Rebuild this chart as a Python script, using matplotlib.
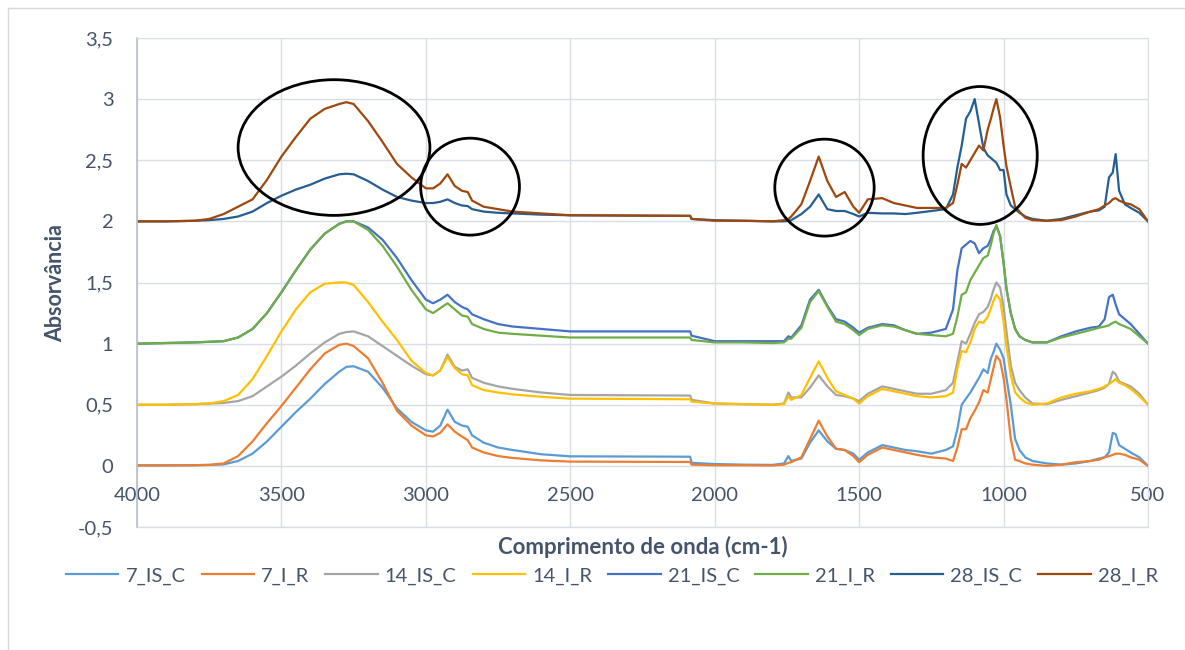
import matplotlib
matplotlib.use('Agg')
import matplotlib.pyplot as plt
from matplotlib.patches import Ellipse
from matplotlib.lines import Line2D
from matplotlib.ticker import FuncFormatter, MultipleLocator

plt.rcParams['font.family'] = ['Lato', 'DejaVu Sans']
text_color = '#44546A'
grid_color = '#D9DEE6'

# Wavenumber grid (cm-1) shared by all spectra
wavenumber = [
    4000, 3900, 3800, 3750, 3700, 3650, 3600, 3550, 3500, 3450, 3400, 3350, 3300, 3275, 3250, 3200, 3150, 3100, 3050, 3000,
    2975, 2950, 2925, 2900, 2875, 2855, 2840, 2800, 2750, 2700, 2600, 2500, 2085, 2080, 2000,
    1900, 1800, 1760, 1745, 1735, 1700, 1670, 1640, 1610, 1580, 1550, 1520, 1500, 1470, 1420, 1380, 1340, 1300, 1250, 1200,
    1175, 1160, 1145, 1130, 1115, 1100, 1085, 1070, 1055, 1045, 1035, 1025, 1012, 1000, 990, 975, 960, 945, 925, 900,
    850, 800, 750, 700, 670, 650, 635, 622, 612, 600, 580, 560, 530, 500,
]

abs_7_is_c = [
    0.005, 0.005, 0.006, 0.008, 0.012, 0.04, 0.10, 0.20, 0.32, 0.44, 0.55, 0.67, 0.77, 0.81, 0.815, 0.77, 0.64, 0.47, 0.36, 0.29,
    0.28, 0.33, 0.46, 0.36, 0.33, 0.32, 0.25, 0.19, 0.15, 0.13, 0.095, 0.078, 0.075, 0.025, 0.015,
    0.01, 0.008, 0.02, 0.08, 0.04, 0.06, 0.19, 0.29, 0.20, 0.14, 0.13, 0.10, 0.05, 0.11, 0.17, 0.15, 0.13, 0.12, 0.10, 0.13,
    0.16, 0.30, 0.50, 0.55, 0.60, 0.66, 0.72, 0.79, 0.76, 0.87, 0.93, 1.0, 0.95, 0.88, 0.72, 0.50, 0.22, 0.13, 0.07, 0.04,
    0.02, 0.01, 0.02, 0.04, 0.06, 0.07, 0.11, 0.27, 0.26, 0.17, 0.14, 0.11, 0.07, 0.0,
]
abs_7_i_r = [
    0.003, 0.003, 0.005, 0.008, 0.02, 0.08, 0.20, 0.35, 0.49, 0.64, 0.79, 0.92, 0.99, 1.0, 0.98, 0.88, 0.68, 0.45, 0.33, 0.25,
    0.24, 0.27, 0.34, 0.28, 0.24, 0.21, 0.15, 0.11, 0.08, 0.065, 0.045, 0.035, 0.032, 0.01, 0.005,
    0.005, 0.003, 0.01, 0.025, 0.03, 0.07, 0.22, 0.37, 0.24, 0.14, 0.13, 0.08, 0.03, 0.09, 0.15, 0.13, 0.11, 0.09, 0.07, 0.06,
    0.04, 0.15, 0.30, 0.30, 0.39, 0.45, 0.52, 0.62, 0.60, 0.70, 0.80, 0.90, 0.86, 0.72, 0.54, 0.22, 0.05, 0.04, 0.02, 0.01,
    0.0, 0.01, 0.03, 0.04, 0.05, 0.07, 0.08, 0.09, 0.10, 0.10, 0.09, 0.07, 0.05, 0.0,
]
abs_14_is_c = [
    0.5, 0.5, 0.505, 0.51, 0.515, 0.53, 0.57, 0.65, 0.73, 0.82, 0.92, 1.01, 1.08, 1.095, 1.10, 1.06, 0.98, 0.90, 0.82, 0.75,
    0.74, 0.78, 0.91, 0.81, 0.78, 0.79, 0.72, 0.68, 0.65, 0.63, 0.60, 0.58, 0.575, 0.54, 0.51,
    0.505, 0.50, 0.51, 0.60, 0.56, 0.56, 0.64, 0.74, 0.65, 0.58, 0.57, 0.55, 0.53, 0.59, 0.65, 0.63, 0.61, 0.59, 0.59, 0.62,
    0.68, 0.85, 1.02, 1.0, 1.08, 1.17, 1.24, 1.26, 1.30, 1.36, 1.44, 1.50, 1.46, 1.30, 1.10, 0.82, 0.68, 0.62, 0.56, 0.51,
    0.505, 0.54, 0.57, 0.60, 0.62, 0.64, 0.67, 0.77, 0.75, 0.69, 0.67, 0.65, 0.59, 0.5,
]
abs_14_i_r = [
    0.5, 0.5, 0.505, 0.51, 0.53, 0.58, 0.71, 0.90, 1.10, 1.28, 1.42, 1.49, 1.50, 1.50, 1.48, 1.34, 1.18, 1.03, 0.86, 0.76,
    0.74, 0.78, 0.89, 0.80, 0.75, 0.74, 0.66, 0.62, 0.60, 0.585, 0.565, 0.55, 0.545, 0.525, 0.51,
    0.505, 0.50, 0.505, 0.57, 0.54, 0.58, 0.72, 0.855, 0.72, 0.61, 0.58, 0.55, 0.51, 0.57, 0.63, 0.61, 0.59, 0.57, 0.56, 0.57,
    0.60, 0.80, 0.94, 0.93, 1.01, 1.12, 1.18, 1.17, 1.22, 1.28, 1.35, 1.40, 1.36, 1.18, 0.98, 0.74, 0.60, 0.56, 0.52, 0.50,
    0.51, 0.56, 0.59, 0.61, 0.63, 0.65, 0.67, 0.69, 0.71, 0.68, 0.66, 0.63, 0.57, 0.50,
]
abs_21_is_c = [
    1.0, 1.005, 1.01, 1.015, 1.02, 1.05, 1.12, 1.25, 1.42, 1.60, 1.77, 1.90, 1.98, 2.0, 2.0, 1.95, 1.85, 1.70, 1.52, 1.36,
    1.33, 1.36, 1.40, 1.34, 1.30, 1.28, 1.24, 1.20, 1.16, 1.14, 1.12, 1.10, 1.10, 1.065, 1.02,
    1.02, 1.02, 1.02, 1.06, 1.05, 1.15, 1.36, 1.44, 1.31, 1.20, 1.18, 1.13, 1.09, 1.13, 1.16, 1.15, 1.11, 1.08, 1.09, 1.12,
    1.28, 1.60, 1.78, 1.81, 1.84, 1.82, 1.74, 1.78, 1.80, 1.85, 1.92, 1.96, 1.88, 1.66, 1.45, 1.25, 1.12, 1.06, 1.03, 1.01,
    1.01, 1.06, 1.10, 1.13, 1.14, 1.20, 1.38, 1.40, 1.32, 1.24, 1.20, 1.16, 1.08, 1.0,
]
abs_21_i_r = [
    1.0, 1.005, 1.01, 1.015, 1.02, 1.05, 1.12, 1.25, 1.42, 1.60, 1.77, 1.90, 1.98, 2.0, 2.0, 1.93, 1.80, 1.63, 1.44, 1.28,
    1.25, 1.29, 1.33, 1.28, 1.23, 1.22, 1.16, 1.12, 1.09, 1.08, 1.065, 1.05, 1.05, 1.03, 1.01,
    1.01, 1.005, 1.01, 1.04, 1.04, 1.13, 1.34, 1.43, 1.30, 1.18, 1.16, 1.11, 1.07, 1.12, 1.15, 1.14, 1.11, 1.08, 1.07, 1.06,
    1.08, 1.22, 1.40, 1.42, 1.52, 1.58, 1.64, 1.70, 1.72, 1.80, 1.90, 1.97, 1.88, 1.66, 1.45, 1.25, 1.12, 1.06, 1.03, 1.01,
    1.01, 1.05, 1.08, 1.11, 1.13, 1.14, 1.15, 1.17, 1.18, 1.16, 1.14, 1.12, 1.06, 1.0,
]
abs_28_is_c = [
    2.0, 2.0, 2.005, 2.01, 2.02, 2.04, 2.08, 2.15, 2.21, 2.26, 2.30, 2.35, 2.385, 2.39, 2.385, 2.33, 2.26, 2.20, 2.17, 2.15,
    2.15, 2.16, 2.18, 2.15, 2.13, 2.125, 2.10, 2.08, 2.07, 2.065, 2.055, 2.05, 2.045, 2.02, 2.01,
    2.005, 2.0, 2.0, 2.005, 2.01, 2.06, 2.12, 2.22, 2.10, 2.085, 2.085, 2.06, 2.04, 2.07, 2.065, 2.065, 2.06, 2.07, 2.085, 2.10,
    2.22, 2.44, 2.62, 2.84, 2.90, 3.0, 2.80, 2.60, 2.54, 2.52, 2.50, 2.48, 2.42, 2.42, 2.22, 2.13, 2.10, 2.07, 2.04, 2.02,
    2.005, 2.02, 2.05, 2.08, 2.09, 2.12, 2.36, 2.40, 2.55, 2.25, 2.14, 2.11, 2.07, 2.0,
]
abs_28_i_r = [
    2.0, 2.0, 2.005, 2.02, 2.06, 2.12, 2.18, 2.34, 2.53, 2.69, 2.84, 2.92, 2.96, 2.975, 2.96, 2.82, 2.65, 2.47, 2.36, 2.27,
    2.27, 2.31, 2.385, 2.29, 2.25, 2.24, 2.17, 2.12, 2.10, 2.08, 2.065, 2.05, 2.045, 2.02, 2.005,
    2.005, 2.0, 2.01, 2.02, 2.04, 2.14, 2.33, 2.53, 2.33, 2.20, 2.24, 2.12, 2.07, 2.18, 2.19, 2.15, 2.13, 2.11, 2.11, 2.11,
    2.15, 2.30, 2.47, 2.44, 2.50, 2.56, 2.62, 2.58, 2.75, 2.83, 2.92, 3.0, 2.85, 2.62, 2.45, 2.28, 2.12, 2.08, 2.03, 2.01,
    2.005, 2.01, 2.04, 2.08, 2.10, 2.13, 2.15, 2.18, 2.19, 2.17, 2.15, 2.14, 2.10, 2.0,
]

series_names = ['7_IS_C', '7_I_R', '14_IS_C', '14_I_R', '21_IS_C', '21_I_R', '28_IS_C', '28_I_R']
series_values = [abs_7_is_c, abs_7_i_r, abs_14_is_c, abs_14_i_r,
                 abs_21_is_c, abs_21_i_r, abs_28_is_c, abs_28_i_r]
series_colors = ['#5B9BD5', '#ED7D31', '#A5A5A5', '#FFC000',
                 '#4472C4', '#70AD47', '#255E91', '#9E480E']

# Highlighted regions: (centre wn, centre abs, width in cm-1, height)
ellipses = [(3318, 2.604, 664, 1.11), (2847, 2.284, 342, 0.793),
            (1620, 2.276, 344, 0.793), (1081, 2.539, 395, 1.128)]

fig = plt.figure(figsize=(11.85, 6.5), dpi=100)
ax = fig.add_axes([137 / 1185, 123 / 650, 1011 / 1185, 489 / 650])

for name, vals, col in zip(series_names, series_values, series_colors):
    ax.plot(wavenumber, vals, color=col, lw=1.6, label=name, solid_joinstyle='round')

for cx, cy, w, h in ellipses:
    ax.add_patch(Ellipse((cx, cy), w, h, fill=False, edgecolor='black', lw=2.0, zorder=5))

ax.set_xlim(4000, 500)
ax.set_ylim(-0.5, 3.5)
ax.xaxis.set_major_locator(MultipleLocator(500))
ax.yaxis.set_major_locator(MultipleLocator(0.5))
ax.yaxis.set_major_formatter(FuncFormatter(lambda v, p: f'{v:g}'.replace('.', ',')))
ax.grid(True, color=grid_color, lw=1.0, zorder=0)
ax.set_axisbelow(True)

ax.spines['bottom'].set_position(('data', 0))
ax.spines['bottom'].set_color('none')
ax.spines['top'].set_color(grid_color)
ax.spines['right'].set_color(grid_color)
ax.spines['left'].set_color('#B8BFCB')
ax.spines['left'].set_linewidth(1.2)
ax.axhline(-0.5, color=grid_color, lw=1.0, clip_on=False, zorder=0)

ax.tick_params(axis='x', length=0, pad=15, labelsize=14.5, labelcolor=text_color)
ax.tick_params(axis='y', length=0, pad=17, labelsize=14.5, labelcolor=text_color)

fig.text(642.5 / 1185, 1 - 547 / 650, 'Comprimento de onda (cm-1)', ha='center', va='center',
         fontsize=16, fontweight='bold', color=text_color)
fig.text(56 / 1185, 1 - 283 / 650, 'Absorvância', ha='center', va='center', rotation=90,
         fontsize=15.5, fontweight='bold', color=text_color)

fig.legend(loc='center', bbox_to_anchor=(612 / 1185, 1 - 576 / 650), ncol=8, frameon=False,
           fontsize=14.5, handlelength=2.6, handletextpad=0.35, columnspacing=0.8,
           labelcolor=text_color)

# outer chart border
fig.add_artist(Line2D([7.5 / 1185, 7.5 / 1185], [0, 1 - 8 / 650], color='#D9D9D9', lw=1.0))
fig.add_artist(Line2D([7.5 / 1185, 1], [1 - 8 / 650, 1 - 8 / 650], color='#D9D9D9', lw=1.0))

fig.savefig('out.png', dpi=100)
